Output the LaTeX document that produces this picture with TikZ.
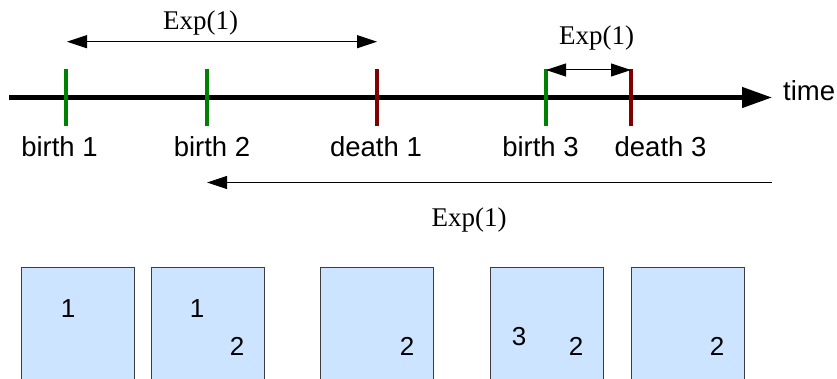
\documentclass[tikz,border=0pt]{standalone}
\usepackage{fontspec}
\setmainfont{Liberation Sans}
\newfontfamily\seriffont{Liberation Serif}
\usetikzlibrary{arrows.meta}
\definecolor{tickgreen}{RGB}{0,128,0}
\definecolor{tickred}{RGB}{128,0,0}
\definecolor{boxfill}{RGB}{204,228,255}
\definecolor{boxline}{RGB}{60,60,60}
\begin{document}
\begin{tikzpicture}[x=1pt,y=-1pt,
  lbl/.style={font=\fontsize{27.5}{30}\selectfont, inner sep=0, anchor=base},
  digit/.style={font=\fontsize{26}{30}\selectfont, inner sep=0, anchor=base},
  explbl/.style={font=\seriffont\fontsize{27}{30}\selectfont, inner sep=0, anchor=base},
  tickmark/.style={line width=3.2pt},
  dimtip/.tip={Triangle[length=20pt,width=13pt]},
  dimarrow/.style={line width=1pt},
  cell/.style={draw=boxline, fill=boxfill, line width=1pt, minimum width=113pt, minimum height=130pt, inner sep=0, anchor=north west},
]
\useasboundingbox (0,0) rectangle (837,379);

% timeline
\coordinate (tl0) at (9,97.5);
\coordinate (tl1) at (772,97.5);
\draw[line width=4.5pt, -{Triangle[length=30pt,width=20pt]}] (tl0) -- (tl1);
\node[lbl, anchor=base west] (time) at (783,101) {time};

% ticks
\coordinate (b1t) at (66,69);  \coordinate (b1b) at (66,126);
\coordinate (b2t) at (207,69); \coordinate (b2b) at (207,126);
\coordinate (d1t) at (377,69); \coordinate (d1b) at (377,126);
\coordinate (b3t) at (546,69); \coordinate (b3b) at (546,126);
\coordinate (d3t) at (631,69); \coordinate (d3b) at (631,126);
\draw[tickmark, tickgreen] (b1t) -- (b1b);
\draw[tickmark, tickgreen] (b2t) -- (b2b);
\draw[tickmark, tickred] (d1t) -- (d1b);
\draw[tickmark, tickgreen] (b3t) -- (b3b);
\draw[tickmark, tickred] (d3t) -- (d3b);

% tick labels
\node[lbl] (lb1) at (59.5,157) {birth 1};
\node[lbl] (lb2) at (212,157) {birth 2};
\node[lbl] (ld1) at (376,157) {death 1};
\node[lbl] (lb3) at (540.5,157) {birth 3};
\node[lbl] (ld3) at (660.5,157) {death 3};

% Exp arrows
\coordinate (a1l) at (67,41.7);
\coordinate (a1r) at (377,41.7);
\draw[dimarrow, dimtip-dimtip] (a1l) -- (a1r);
\node[explbl] (e1) at (200.5,30) {Exp(1)};

\coordinate (a2l) at (546,70);
\coordinate (a2r) at (631,70);
\draw[dimarrow, dimtip-dimtip] (a2l) -- (a2r);
\node[explbl] (e2) at (596.5,45) {Exp(1)};

\coordinate (a3r) at (772,182.5);
\coordinate (a3l) at (207,182.5);
\draw[dimarrow, -dimtip] (a3r) -- (a3l);
\node[explbl] (e3) at (469,227) {Exp(1)};

% boxes
\node[cell] (c1) at (21,267) {};
\node[cell] (c2) at (151,267) {};
\node[cell] (c3) at (320,267) {};
\node[cell] (c4) at (489.5,267) {};
\node[cell] (c5) at (631,267) {};

\node[digit] (c1a) at (68,317) {1};
\node[digit] (c2a) at (197,317) {1};
\node[digit] (c2b) at (237,355) {2};
\node[digit] (c3b) at (407,355) {2};
\node[digit] (c4c) at (519,345) {3};
\node[digit] (c4b) at (576,355) {2};
\node[digit] (c5b) at (717,355) {2};
\end{tikzpicture}
\end{document}
